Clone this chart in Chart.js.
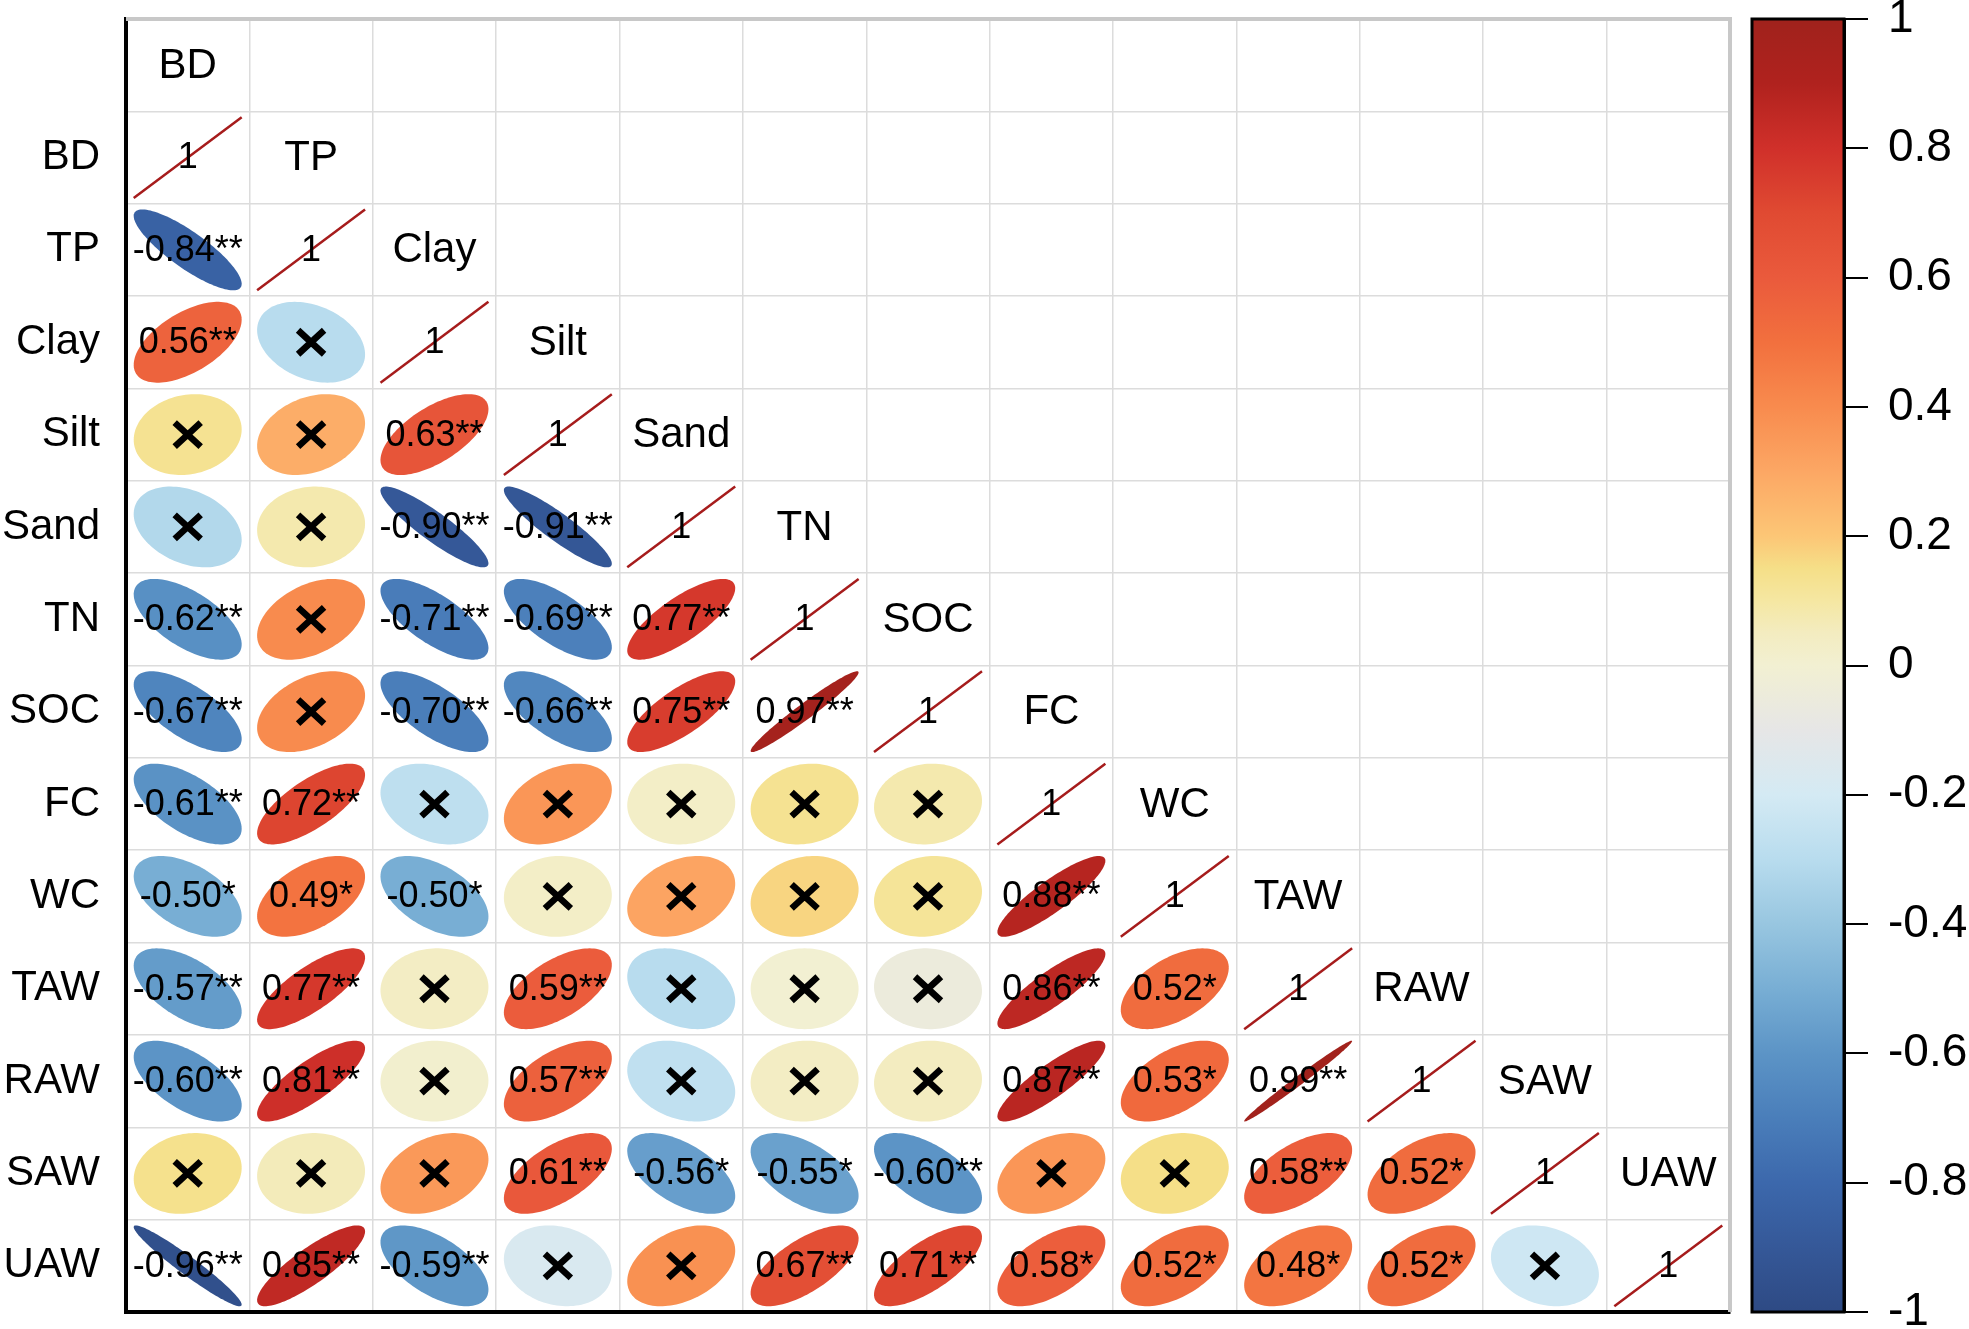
<!DOCTYPE html>
<html>
<head>
<meta charset="utf-8">
<script src="https://cdn.jsdelivr.net/npm/chart.js@4.4.1/dist/chart.umd.min.js"></script>
<style>
  html, body { margin: 0; padding: 0; background: #fff; }
  #wrap { position: relative; width: 1969px; height: 1329px; overflow: hidden; }
  #corr { position: absolute; left: 0; top: 0; }
  #legend { position: absolute; left: 1745px; top: 0; }
</style>
</head>
<body>
<div id="wrap">
  <canvas id="corr" width="1745" height="1329"></canvas>
  <canvas id="legend" width="224" height="1329"></canvas>
</div>
<script>
// ---- data ---------------------------------------------------------------
const variables = ["BD", "TP", "Clay", "Silt", "Sand", "TN", "SOC", "FC", "WC", "TAW", "RAW", "SAW", "UAW"];
const rowLabels = [""].concat(variables);

// lower triangle, one row per variable from TP downwards (columns BD..)
const corrRows = [
  [-0.84],
  [0.56, -0.30],
  [0.13, 0.28, 0.63],
  [-0.32, 0.08, -0.90, -0.91],
  [-0.62, 0.40, -0.71, -0.69, 0.77],
  [-0.67, 0.40, -0.70, -0.66, 0.75, 0.97],
  [-0.61, 0.72, -0.28, 0.36, 0.03, 0.13, 0.08],
  [-0.50, 0.49, -0.50, 0.03, 0.31, 0.17, 0.12, 0.88],
  [-0.57, 0.77, 0.04, 0.59, -0.30, 0.00, -0.05, 0.86, 0.52],
  [-0.60, 0.81, 0.01, 0.57, -0.27, 0.04, 0.05, 0.87, 0.53, 0.99],
  [0.14, 0.06, 0.35, 0.61, -0.56, -0.55, -0.60, 0.36, 0.15, 0.58, 0.52],
  [-0.96, 0.85, -0.59, -0.17, 0.38, 0.67, 0.71, 0.58, 0.52, 0.48, 0.52, -0.22],
];
// significance marks ("" = not significant, drawn as a cross)
const sigRows = [
  ["**"],
  ["**", ""],
  ["", "", "**"],
  ["", "", "**", "**"],
  ["**", "", "**", "**", "**"],
  ["**", "", "**", "**", "**", "**"],
  ["**", "**", "", "", "", "", ""],
  ["*", "*", "*", "", "", "", "", "**"],
  ["**", "**", "", "**", "", "", "", "**", "*"],
  ["**", "**", "", "**", "", "", "", "**", "*", "**"],
  ["", "", "", "**", "*", "*", "**", "", "", "**", "*"],
  ["**", "**", "**", "", "", "**", "**", "*", "*", "*", "*", ""],
];
const legendTicks = [-1, -0.8, -0.6, -0.4, -0.2, 0, 0.2, 0.4, 0.6, 0.8, 1];

// colour ramp
const palette = [
  [-1.0, "#2e4a84"], [-0.9, "#355898"], [-0.8, "#3c68ac"], [-0.7, "#4a7eba"],
  [-0.6, "#5c94c6"], [-0.5, "#78aed4"], [-0.4, "#98c6e0"], [-0.3, "#b8dcee"],
  [-0.2, "#d4eaf4"], [-0.1, "#e6e6e6"], [0.0, "#f2f0d2"], [0.05, "#f3ecc0"],
  [0.1, "#f5e7a2"], [0.15, "#f5df88"], [0.2, "#fcc676"], [0.3, "#fca764"],
  [0.4, "#f88b4e"], [0.5, "#f2703e"], [0.6, "#ea5a3c"], [0.7, "#e04a32"],
  [0.8, "#d0302a"], [0.9, "#b0221e"], [1.0, "#a0221c"],
];

const FONT = "'Liberation Sans', Arial, sans-serif";

function hexRgb(h) {
  return [1, 3, 5].map((i) => parseInt(h.substr(i, 2), 16));
}
function corrColor(v) {
  for (let i = 0; i < palette.length - 1; i++) {
    const [a, ca] = palette[i], [b, cb] = palette[i + 1];
    if (v <= b) {
      const t = (v - a) / (b - a), p = hexRgb(ca), q = hexRgb(cb);
      const c = p.map((x, k) => Math.round(x + (q[k] - x) * t));
      return `rgb(${c[0]},${c[1]},${c[2]})`;
    }
  }
  return palette[palette.length - 1][1];
}

// cells for the dataset (category names, the scales place them)
const cells = [];
corrRows.forEach((vals, i) => {
  vals.forEach((v, c) => {
    cells.push({ x: variables[c], y: rowLabels[i + 2], v: v, sig: sigRows[i][c] });
  });
});
variables.forEach((name, k) => cells.push({ x: name, y: rowLabels[k + 1], v: 1, diag: true }));

// ---- drawing helpers ------------------------------------------------------
function ellipsePath(ctx, cx, cy, hw, hh, r) {
  const d = Math.acos(Math.max(-1, Math.min(1, r)));
  ctx.beginPath();
  for (let i = 0; i <= 120; i++) {
    const t = (i / 120) * 2 * Math.PI;
    const px = cx + Math.cos(t + d / 2) * hw;
    const py = cy - Math.cos(t - d / 2) * hh;
    if (i) ctx.lineTo(px, py); else ctx.moveTo(px, py);
  }
  ctx.closePath();
}

const cellPlugin = {
  id: "corrCells",
  afterDatasetsDraw(chart) {
    const { ctx, chartArea } = chart;
    const xs = chart.scales.x, ys = chart.scales.y;
    const cw = xs.getPixelForValue(1) - xs.getPixelForValue(0);
    const ch = ys.getPixelForValue(1) - ys.getPixelForValue(0);
    const hw = cw * 0.4375, hh = ch * 0.4375;
    const meta = chart.getDatasetMeta(0);
    const raw = chart.data.datasets[0].data;

    ctx.save();
    ctx.textAlign = "center";
    ctx.textBaseline = "middle";
    meta.data.forEach((el, i) => {
      const d = raw[i];
      const cx = el.x, cy = el.y;
      if (d.diag) {
        ctx.strokeStyle = "#a61c1c";
        ctx.lineWidth = 2.5;
        ctx.beginPath();
        ctx.moveTo(cx - hw, cy + hh);
        ctx.lineTo(cx + hw, cy - hh);
        ctx.stroke();
        ctx.fillStyle = "#000";
        ctx.font = `36px ${FONT}`;
        ctx.fillText("1", cx, cy + 1);
        return;
      }
      ellipsePath(ctx, cx, cy, hw, hh, d.v);
      ctx.fillStyle = corrColor(d.v);
      ctx.fill();
      if (d.sig) {
        ctx.fillStyle = "#000";
        ctx.font = `36px ${FONT}`;
        ctx.fillText(d.v.toFixed(2) + d.sig, cx, cy + 1);
      } else {
        ctx.strokeStyle = "#000";
        ctx.lineWidth = 6.5;
        ctx.beginPath();
        ctx.moveTo(cx - 13, cy - 12); ctx.lineTo(cx + 13, cy + 12);
        ctx.moveTo(cx + 13, cy - 12); ctx.lineTo(cx - 13, cy + 12);
        ctx.stroke();
      }
    });

    // variable names on the diagonal
    ctx.fillStyle = "#000";
    ctx.font = `42px ${FONT}`;
    variables.forEach((name, k) => {
      ctx.fillText(name, xs.getPixelForValue(k), ys.getPixelForValue(k) + 1);
    });

    // grey frame on top and right
    ctx.strokeStyle = "#c8c8c8";
    ctx.lineWidth = 4;
    ctx.beginPath();
    ctx.moveTo(chartArea.left, chartArea.top);
    ctx.lineTo(chartArea.right, chartArea.top);
    ctx.lineTo(chartArea.right, chartArea.bottom);
    ctx.stroke();
    ctx.restore();
  },
};

const gridStyle = { offset: true, color: "#dcdcdc", lineWidth: 1.5, drawTicks: false };

new Chart(document.getElementById("corr"), {
  type: "scatter",
  data: { datasets: [{ data: cells, pointRadius: 0, pointHoverRadius: 0 }] },
  options: {
    responsive: false,
    animation: false,
    devicePixelRatio: 1,
    events: [],
    layout: { padding: { left: 0, top: 19, right: 15, bottom: 17 } },
    plugins: { legend: { display: false }, tooltip: { enabled: false } },
    scales: {
      x: {
        type: "category",
        labels: variables,
        offset: true,
        grid: gridStyle,
        border: { color: "#000", width: 4 },
        ticks: { display: false },
        afterFit: (s) => { s.height = 0; s.paddingLeft = 0; s.paddingRight = 0; },
      },
      y: {
        type: "category",
        labels: rowLabels,
        offset: true,
        grid: gridStyle,
        border: { color: "#000", width: 4 },
        ticks: { color: "#000", padding: 26, autoSkip: false, font: { family: FONT, size: 42 } },
        afterFit: (s) => { s.width = 126; s.paddingTop = 0; s.paddingBottom = 0; },
      },
    },
  },
  plugins: [cellPlugin],
});

// ---- colour legend --------------------------------------------------------
const barPlugin = {
  id: "colorBar",
  beforeDatasetsDraw(chart) {
    const { ctx, chartArea: a } = chart;
    const ys = chart.scales.y;
    const g = ctx.createLinearGradient(0, ys.getPixelForValue(-1), 0, ys.getPixelForValue(1));
    palette.forEach(([v, c]) => g.addColorStop((v + 1) / 2, c));
    ctx.save();
    ctx.fillStyle = g;
    ctx.fillRect(a.left, a.top, a.right - a.left, a.bottom - a.top);
    ctx.strokeStyle = "#000";
    ctx.lineWidth = 3;
    ctx.strokeRect(a.left, a.top, a.right - a.left, a.bottom - a.top);
    ctx.restore();
  },
};

new Chart(document.getElementById("legend"), {
  type: "scatter",
  data: { datasets: [] },
  options: {
    responsive: false,
    animation: false,
    devicePixelRatio: 1,
    events: [],
    layout: { padding: { left: 7, top: 19, right: 0, bottom: 17 } },
    plugins: { legend: { display: false }, tooltip: { enabled: false } },
    scales: {
      x: { display: false },
      y: {
        position: "right",
        min: -1,
        max: 1,
        afterBuildTicks: (s) => { s.ticks = legendTicks.map((v) => ({ value: v })); },
        afterFit: (s) => { s.width = 125; s.paddingTop = 0; s.paddingBottom = 0; },
        grid: { drawOnChartArea: false, drawTicks: true, tickLength: 24, color: "#000", lineWidth: 2 },
        border: { display: true, color: "#000", width: 3 },
        ticks: {
          padding: 20,
          color: "#000",
          font: { family: FONT, size: 46 },
          callback: (v) => String(Number(v.toFixed(1))),
        },
      },
    },
  },
  plugins: [barPlugin],
});
</script>
</body>
</html>
